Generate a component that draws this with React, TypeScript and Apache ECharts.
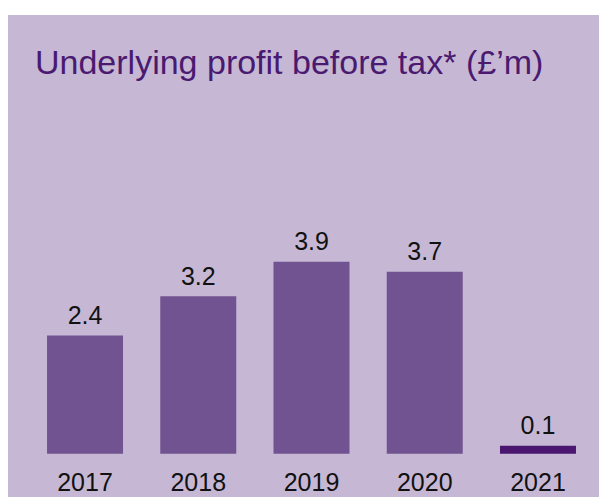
import React, { useEffect, useRef } from "react";
import * as echarts from "echarts";

const categories = ["2017", "2018", "2019", "2020", "2021"];
const values = [2.4, 3.2, 3.9, 3.7, 0.1];
const labels = ["2.4", "3.2", "3.9", "3.7", "0.1"];
const barColors = ["#725391", "#725391", "#725391", "#725391", "#4a1670"];
const titleText = "Underlying profit before tax* (£’m)";

const FONT = "'Liberation Sans', Arial, Helvetica, sans-serif";

export default function App() {
  const ref = useRef<HTMLDivElement>(null);
  useEffect(() => {
    if (!ref.current) return;
    const chart = echarts.init(ref.current, undefined, { renderer: "svg" });
    chart.setOption({
      animation: false,
      backgroundColor: "#ffffff",
      graphic: [
        {
          type: "rect",
          z: -10,
          silent: true,
          shape: { x: 8, y: 15, width: 591, height: 482 },
          style: { fill: "#c6b8d4" },
        },
        {
          type: "text",
          x: 35,
          y: 62,
          style: {
            text: titleText,
            fill: "#4a1a70",
            font: `34px ${FONT}`,
            textAlign: "left",
            textVerticalAlign: "middle",
          },
        },
      ],
      grid: { left: 28.4, right: 6.4, top: 158.5, bottom: 43.3, containLabel: false },
      xAxis: {
        type: "category",
        data: categories,
        axisLine: { show: false },
        axisTick: { show: false },
        axisLabel: { color: "#111111", fontSize: 25, fontFamily: FONT, margin: 16 },
      },
      yAxis: {
        type: "value",
        min: 0,
        max: 6,
        show: false,
        splitLine: { show: false },
      },
      series: [
        {
          type: "bar",
          barWidth: 76,
          barMinHeight: 8,
          data: values.map((v, i) => ({ value: v, itemStyle: { color: barColors[i] } })),
          label: {
            show: true,
            position: "top",
            distance: 8,
            color: "#111111",
            fontSize: 25,
            fontFamily: FONT,
            formatter: (p: any) => labels[p.dataIndex],
          },
        },
      ],
    });
    return () => chart.dispose();
  }, []);
  return (
    <div
      ref={ref}
      style={{ position: "absolute", left: 0, top: 0, width: 601, height: 497 }}
    />
  );
}
